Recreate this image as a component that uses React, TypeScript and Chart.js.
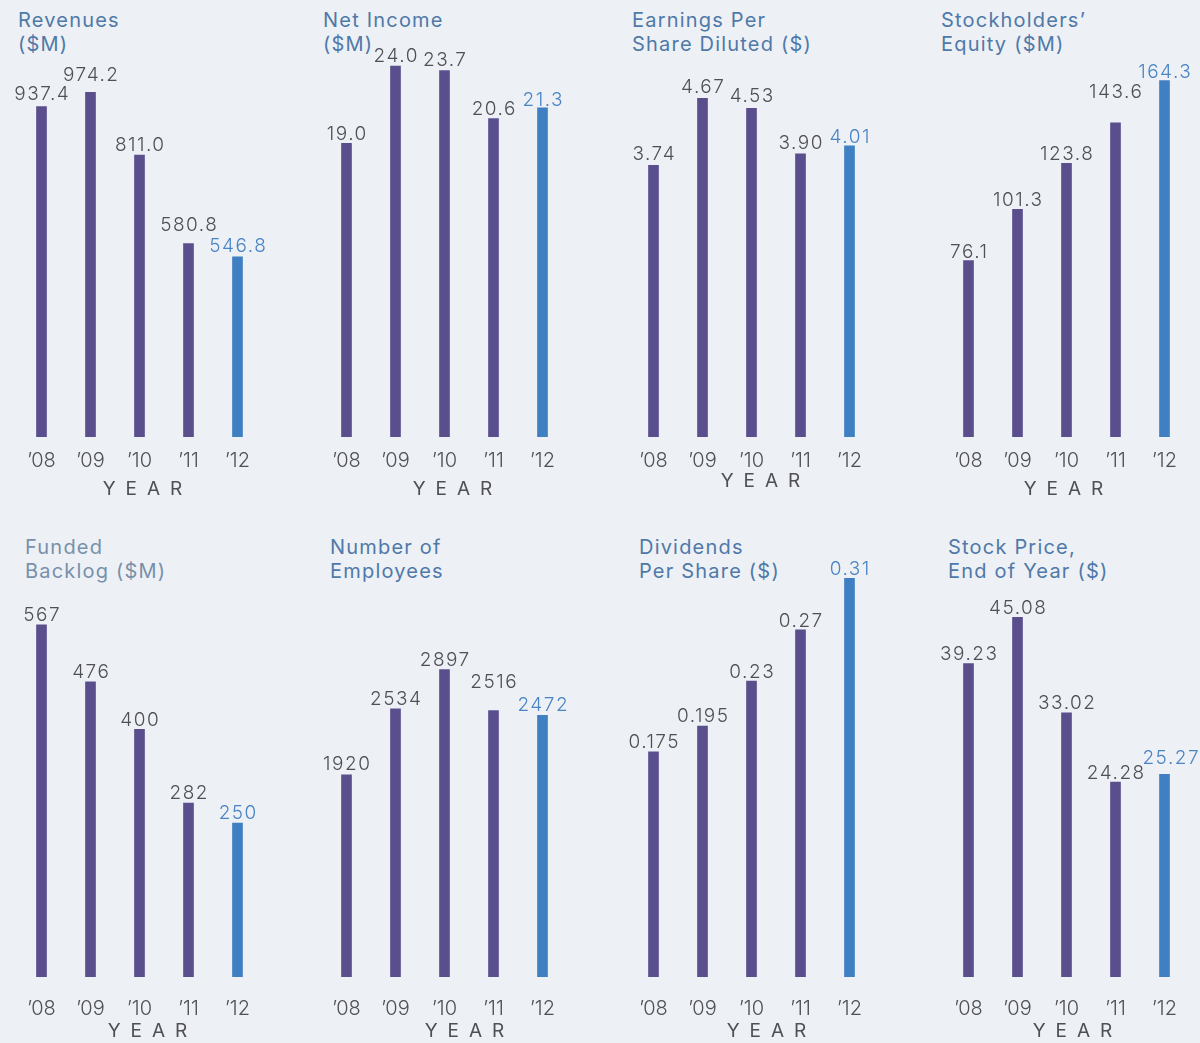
import React, { useEffect, useRef } from "react";
import { Chart, registerables } from "chart.js";

Chart.register(...registerables);

// ---------- data ----------
const YEARS = ["\u201908", "\u201909", "\u201910", "\u201911", "\u201912"];
const revenues = [937.4, 974.2, 811.0, 580.8, 546.8];
const netIncome = [19.0, 24.0, 23.7, 20.6, 21.3];
const epsDiluted = [3.74, 4.67, 4.53, 3.9, 4.01];
const equity = [76.1, 101.3, 123.8, 143.6, 164.3];
const backlog = [567, 476, 400, 282, 250];
const employees = [1920, 2534, 2897, 2516, 2472];
const dividends = [0.175, 0.195, 0.23, 0.27, 0.31];
const stockPrice = [39.23, 45.08, 33.02, 24.28, 25.27];

// ---------- style ----------
const BG = "#edf0f5";
const PURPLE = "#5b4e8d";
const BLUE = "#3f7fc2";
const LABEL_BLUE = "#4a84c4";
const LABEL_GRAY = "#4f4f55";
const TITLE_BLUE = "#4f79a8";
const FONT = "Inter, 'Open Sans', sans-serif";

type PanelCfg = {
  title: string[];
  titleColor: string;
  values: number[];
  decimals: number | null;
  yMin: number;
  yMax: number;
  col: number;
  row: number;
  titleX: number;
  yearDx: number;
  yearDy: number;
  gaps?: number[]; // label placement (px above bar top)
  shiftX?: number[]; // label horizontal nudge (px)
};

const COLS = [16.5, 321.5, 629, 943.5];
const ROWS = [
  { top: 0, height: 520, tickPad: 12, padBottom: 35, yearY: 489, titleY: 8 },
  { top: 520, height: 523, tickPad: 20, padBottom: 2, yearY: 511, titleY: 15 },
];

const PANELS: PanelCfg[] = [
  { title: ["Revenues", "($M)"], titleColor: TITLE_BLUE, values: revenues, decimals: 1, yMin: 78.2, yMax: 1110.2, col: 0, row: 0, titleX: 18, yearDx: 3, yearDy: 0, gaps: [6, 11, 4, 13, 5] },
  { title: ["Net Income", "($M)"], titleColor: TITLE_BLUE, values: netIncome, decimals: 1, yMin: 0, yMax: 25.68, col: 1, row: 0, titleX: 323, yearDx: 8, yearDy: 0, gaps: [3, 4, 5, 4, 2] },
  { title: ["Earnings Per", "Share Diluted ($)"], titleColor: TITLE_BLUE, values: epsDiluted, decimals: 2, yMin: -0.032, yMax: 5.479, col: 2, row: 0, titleX: 632, yearDx: 9, yearDy: -8, gaps: [5, 5, 6, 5, 3] },
  { title: ["Stockholders\u2019", "Equity ($M)"], titleColor: TITLE_BLUE, values: equity, decimals: 1, yMin: -10.3, yMax: 184.2, col: 3, row: 0, titleX: 941, yearDx: -3, yearDy: 0, gaps: [3, 3, 3, 25, 3] },
  { title: ["Funded", "Backlog ($M)"], titleColor: "#7890aa", values: backlog, decimals: 0, yMin: 3.8, yMax: 670.9, col: 0, row: 1, titleX: 25, yearDx: 8, yearDy: 0, gaps: [4, 4, 3, 4, 4] },
  { title: ["Number of", "Employees"], titleColor: TITLE_BLUE, values: employees, decimals: 0, yMin: 45, yMax: 3914, col: 1, row: 1, titleX: 330, yearDx: 20, yearDy: 0, gaps: [5, 4, 4, 23, 4] },
  { title: ["Dividends", "Per Share ($)"], titleColor: TITLE_BLUE, values: dividends, decimals: null, yMin: 0, yMax: 0.3242, col: 2, row: 1, titleX: 639, yearDx: 15, yearDy: 0, gaps: [4, 4, 3, 3, 3] },
  { title: ["Stock Price,", "End of Year ($)"], titleColor: TITLE_BLUE, values: stockPrice, decimals: 2, yMin: -0.3, yMax: 52.3, col: 3, row: 1, titleX: 948, yearDx: 6, yearDy: 0, gaps: [4, 3, 4, 3, 10], shiftX: [0, 0, 0, 0, 6] },
];

const PAD_X = 30;
const SLOT = 49;

function fmt(v: number, d: number | null) {
  return d === null ? String(v) : v.toFixed(d);
}

function Panel({ cfg }: { cfg: PanelCfg }) {
  const ref = useRef<HTMLCanvasElement>(null);
  const row = ROWS[cfg.row];
  const width = SLOT * 5 + PAD_X * 2;
  const left = COLS[cfg.col] - PAD_X;

  useEffect(() => {
    if (!ref.current) return;
    const valueLabels = {
      id: "valueLabels",
      afterDatasetsDraw(chart: any) {
        const ctx = chart.ctx;
        const meta = chart.getDatasetMeta(0);
        ctx.save();
        ctx.font = `300 19px ${FONT}`;
        (ctx as any).letterSpacing = "1.5px";
        ctx.textAlign = "left";
        ctx.textBaseline = "alphabetic";
        meta.data.forEach((el: any, i: number) => {
          const s = fmt(cfg.values[i], cfg.decimals);
          const w = ctx.measureText(s).width - 1.5;
          const gap = cfg.gaps ? cfg.gaps[i] : 4;
          const dx = cfg.shiftX ? cfg.shiftX[i] : 0;
          ctx.fillStyle = i === cfg.values.length - 1 ? LABEL_BLUE : LABEL_GRAY;
          ctx.fillText(s, el.x + dx - w / 2, el.y - gap);
        });
        ctx.restore();
      },
    };
    const yearTitle = {
      id: "yearTitle",
      afterDraw(chart: any) {
        const ctx = chart.ctx;
        const meta = chart.getDatasetMeta(0);
        const mid = meta.data[2].x;
        ctx.save();
        ctx.font = `400 19px ${FONT}`;
        ctx.fillStyle = LABEL_GRAY;
        ctx.textBaseline = "middle";
        ctx.textAlign = "left";
        (ctx as any).letterSpacing = "10px";
        const text = "YEAR";
        const w = ctx.measureText(text).width - 10;
        ctx.fillText(text, mid + cfg.yearDx - w / 2, row.yearY + cfg.yearDy);
        ctx.restore();
      },
    };
    const chart = new Chart(ref.current, {
      type: "bar",
      data: {
        labels: YEARS,
        datasets: [
          {
            data: cfg.values,
            backgroundColor: cfg.values.map((_, i) => (i === cfg.values.length - 1 ? BLUE : PURPLE)),
            barThickness: 10,
            base: cfg.yMin,
            borderWidth: 0,
          } as any,
        ],
      },
      options: {
        responsive: false,
        maintainAspectRatio: false,
        animation: false,
        layout: { padding: { left: PAD_X, right: PAD_X, top: 40, bottom: row.padBottom } },
        plugins: {
          legend: { display: false },
          tooltip: { enabled: false },
          title: { display: false },
        },
        scales: {
          x: {
            offset: true,
            grid: { display: false, drawTicks: false },
            border: { display: false },
            ticks: {
              color: LABEL_GRAY,
              font: { family: FONT, size: 20, weight: 300 as any },
              padding: row.tickPad,
              maxRotation: 0,
              autoSkip: false,
            },
          },
          y: { display: false, min: cfg.yMin, max: cfg.yMax },
        },
      },
      plugins: [valueLabels, yearTitle],
    });
    return () => chart.destroy();
  }, []);

  return (
    <>
      <div
        style={{
          position: "absolute",
          left: cfg.titleX,
          top: row.top + row.titleY,
          font: `400 20px/24px ${FONT}`,
          letterSpacing: "1.2px",
          color: cfg.titleColor,
          whiteSpace: "nowrap",
        }}
      >
        {cfg.title.map((t, i) => (
          <div key={i}>{t}</div>
        ))}
      </div>
      <canvas
        ref={ref}
        width={width}
        height={row.height}
        style={{ position: "absolute", left, top: row.top, width, height: row.height }}
      />
    </>
  );
}

export default function App() {
  return (
    <div
      style={{
        position: "fixed",
        left: 0,
        top: 0,
        width: 1200,
        height: 1043,
        background: BG,
        overflow: "hidden",
      }}
    >
      {PANELS.map((p, i) => (
        <Panel key={i} cfg={p} />
      ))}
    </div>
  );
}
